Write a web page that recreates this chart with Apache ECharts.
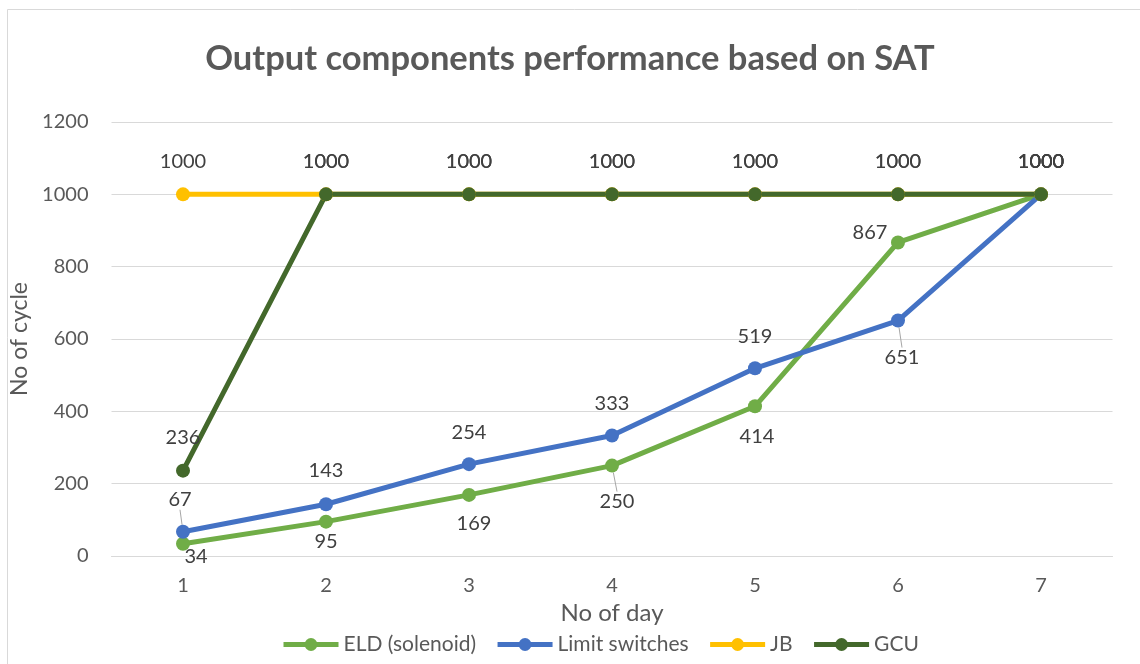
<!DOCTYPE html>
<html>
<head>
<meta charset="utf-8">
<style>
  html, body { margin: 0; padding: 0; background: #ffffff; }
  #chart { width: 1140px; height: 664px; }
</style>
<script src="https://cdn.jsdelivr.net/npm/echarts@6/dist/echarts.min.js"></script>
</head>
<body>
<div id="chart"></div>
<script>
// Days of the test and measured cycles per component
const days = ['1', '2', '3', '4', '5', '6', '7'];
const eldSolenoid = [34, 95, 169, 250, 414, 867, 1000];
const limitSwitches = [67, 143, 254, 333, 519, 651, 1000];
const jb = [1000, 1000, 1000, 1000, 1000, 1000, 1000];
const gcu = [236, 1000, 1000, 1000, 1000, 1000, 1000];
const yTicks = [0, 200, 400, 600, 800, 1000, 1200];

// Label placement per point (pixel shift of the label from the marker centre)
const ABOVE = [0, -33];
const eldLabelShift = [[13, 13], [0, 20], [5, 29], [5, 36], [2, 30], [-28, -10], ABOVE];
const limitLabelShift = [[-3, -32], [0, -34], [0, -32], [0, -32], [0, -32], [4, 37], ABOVE];
const jbLabelShift = days.map(() => ABOVE);
const gcuLabelShift = days.map(() => ABOVE);
// Points whose label gets a short leader line
const eldLeaders = [3];
const limitLeaders = [0, 5];

const chart = echarts.init(document.getElementById('chart'));
const FONT = 'Lato, "Open Sans", sans-serif';
const TEXT = '#595959';
const LABEL = '#404040';

function lineSeries(name, color, values, shifts, leaders) {
  return {
    name: name,
    type: 'line',
    data: values.map((v, i) => ({
      value: v,
      labelLine: { show: leaders.indexOf(i) >= 0 }
    })),
    symbol: 'circle',
    symbolSize: 14,
    lineStyle: { color: color, width: 5 },
    itemStyle: { color: color },
    label: {
      show: true,
      position: 'inside',
      fontFamily: FONT,
      fontSize: 20,
      color: LABEL
    },
    labelLine: { show: false, lineStyle: { color: '#A6A6A6', width: 1 } },
    labelLayout: (p) => ({ dx: shifts[p.dataIndex][0], dy: shifts[p.dataIndex][1] }),
    emphasis: { disabled: true },
    animation: false
  };
}

chart.setOption({
  backgroundColor: '#ffffff',
  animation: false,
  title: {
    text: 'Output components performance based on SAT',
    left: 'center',
    top: 36,
    textStyle: { fontFamily: FONT, fontSize: 34.5, fontWeight: 'bold', color: TEXT }
  },
  graphic: [{
    type: 'rect',
    shape: { x: 7.5, y: 9.5, width: 1140, height: 670 },
    style: { fill: 'none', stroke: '#D9D9D9', lineWidth: 1 },
    silent: true,
    z: -1
  }],
  legend: {
    top: 629,
    left: 276,
    itemWidth: 55,
    itemHeight: 16,
    itemGap: 19,
    lineStyle: { width: 5 },
    textStyle: { fontFamily: FONT, fontSize: 21, color: TEXT },
    data: ['ELD (solenoid)', 'Limit switches', 'JB', 'GCU']
  },
  grid: { left: 111.5, right: 27.5, top: 122, bottom: 108, containLabel: false },
  xAxis: {
    type: 'category',
    data: days,
    boundaryGap: true,
    name: 'No of day',
    nameLocation: 'middle',
    nameGap: 43,
    nameTextStyle: { fontFamily: FONT, fontSize: 24, color: TEXT },
    axisLine: { show: true, lineStyle: { color: '#D9D9D9', width: 1 } },
    axisTick: { show: false },
    axisLabel: { fontFamily: FONT, fontSize: 20, color: TEXT, margin: 20 }
  },
  yAxis: {
    type: 'value',
    min: yTicks[0],
    max: yTicks[yTicks.length - 1],
    interval: yTicks[1] - yTicks[0],
    name: 'No of cycle',
    nameLocation: 'middle',
    nameGap: 72,
    nameTextStyle: { fontFamily: FONT, fontSize: 23, color: TEXT },
    axisLine: { show: false },
    axisTick: { show: false },
    splitLine: { lineStyle: { color: '#D9D9D9', width: 1 } },
    axisLabel: {
      fontFamily: FONT, fontSize: 20, color: TEXT, margin: 23,
      formatter: (v) => String(v)
    }
  },
  series: [
    lineSeries('ELD (solenoid)', '#70AD47', eldSolenoid, eldLabelShift, eldLeaders),
    lineSeries('Limit switches', '#4472C4', limitSwitches, limitLabelShift, limitLeaders),
    lineSeries('JB', '#FFC000', jb, jbLabelShift, []),
    lineSeries('GCU', '#43682B', gcu, gcuLabelShift, [])
  ]
});
</script>
</body>
</html>
